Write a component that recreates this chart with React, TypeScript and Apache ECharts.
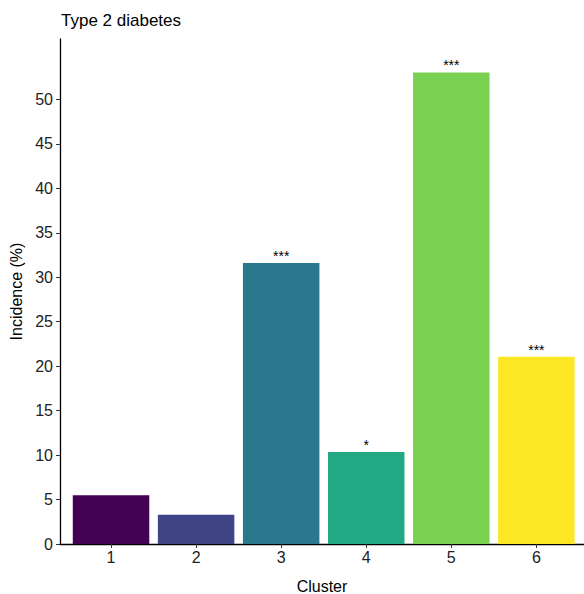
import React, { useEffect, useRef } from "react";
import * as echarts from "echarts";

const clusters = [1, 2, 3, 4, 5, 6];
const incidence = [5.48, 3.3, 31.6, 10.36, 53.04, 21.06];
const significance = ["", "", "***", "*", "***", "***"];
const barColors = ["#440154", "#414487", "#2A788E", "#22A884", "#7AD151", "#FDE725"];
const yTicks = [0, 5, 10, 15, 20, 25, 30, 35, 40, 45, 50];

export default function App() {
  const ref = useRef<HTMLDivElement>(null);
  useEffect(() => {
    if (!ref.current) return;
    const chart = echarts.init(ref.current, null, { renderer: "svg" });
    const font = "Liberation Sans, Arial, sans-serif";
    chart.setOption({
      animation: false,
      textStyle: { fontFamily: font },
      title: {
        text: "Type 2 diabetes",
        left: 61,
        top: 12,
        padding: 0,
        textStyle: { fontSize: 17, fontWeight: "normal", color: "#000", fontFamily: font },
      },
      grid: { left: 60, top: 39, width: 524, height: 505, containLabel: false, outerBoundsMode: "none" },
      xAxis: {
        type: "value",
        min: 0.4,
        max: 6.56,
        name: "Cluster",
        nameLocation: "middle",
        nameGap: 34,
        nameTextStyle: { fontSize: 16, color: "#000", fontFamily: font },
        splitLine: { show: false },
        axisLine: { show: true, lineStyle: { color: "#000", width: 1.3 } },
        axisTick: { show: true, length: 4, customValues: clusters, lineStyle: { color: "#333" } },
        axisLabel: { customValues: clusters, fontSize: 16, color: "#222", margin: 5, fontFamily: font },
      },
      yAxis: {
        type: "value",
        min: 0,
        max: 56.8,
        name: "Incidence (%)",
        nameLocation: "middle",
        nameGap: 32,
        nameRotate: 90,
        nameTextStyle: { fontSize: 16, color: "#000", fontFamily: font },
        splitLine: { show: false },
        axisLine: { show: true, lineStyle: { color: "#000", width: 1.3 } },
        axisTick: { show: true, length: 4, customValues: yTicks, lineStyle: { color: "#333" } },
        axisLabel: { customValues: yTicks, fontSize: 16, color: "#222", margin: 7, fontFamily: font },
      },
      series: [
        {
          type: "bar",
          barWidth: 76.5,
          data: clusters.map((c, i) => ({
            value: [c, incidence[i]],
            itemStyle: { color: barColors[i] },
          })),
          label: {
            show: true,
            position: "top",
            distance: 0,
            fontSize: 14,
            color: "#000",
            fontFamily: font,
            formatter: (p: any) => significance[p.dataIndex],
          },
        },
      ],
    });
    return () => chart.dispose();
  }, []);
  return <div ref={ref} style={{ width: 584, height: 594, position: "absolute", left: 0, top: 0 }} />;
}
